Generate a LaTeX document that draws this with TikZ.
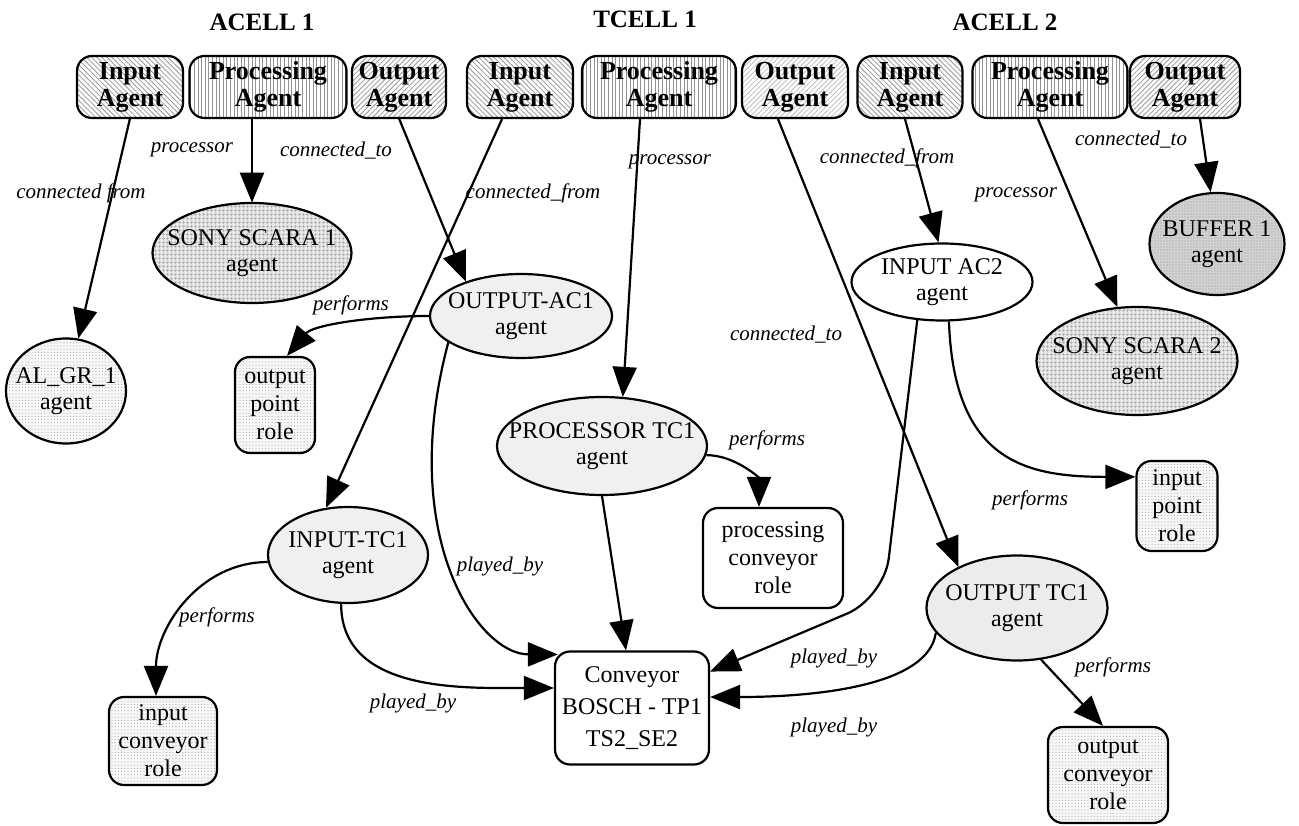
\documentclass[tikz,border=0pt]{standalone}
\usepackage{fontspec}
\setmainfont{Liberation Serif}
\usetikzlibrary{arrows.meta,patterns.meta,shapes.geometric}
\begin{document}
\begin{tikzpicture}[x=1pt,y=-1pt,
  every node/.style={inner sep=0pt, align=center},
  head/.style={font=\fontsize{25}{26}\selectfont\bfseries},
  topbox/.style={draw, line width=2.2pt, rounded corners=15pt, minimum height=62pt,
    font=\fontsize{26}{27}\selectfont\bfseries, minimum width=#1},
  inpat/.style={preaction={fill=white}, pattern={Lines[angle=-45,distance=3.6pt,line width=0.8pt]}, pattern color=gray!80},
  prpat/.style={preaction={fill=white}, pattern={Lines[angle=90,distance=3.6pt,line width=0.9pt]}, pattern color=gray!85},
  outpat/.style={preaction={fill=white}, pattern={Lines[angle=45,distance=3.6pt,line width=0.8pt]}, pattern color=#1},
  agent/.style={draw, ellipse, line width=2.2pt},
  atext/.style={font=\fontsize{24}{26}\selectfont},
  rolebox/.style={draw, line width=2.2pt, rounded corners=15pt, font=\fontsize{24}{28}\selectfont},
  light/.style={fill=gray!12},
  dotfill/.style={preaction={fill=gray!6}, pattern={Dots[distance=3.2pt,radius=0.55pt]}, pattern color=gray!70},
  scarafill/.style={preaction={fill=gray!18}, pattern={Hatch[angle=0,distance=4pt,line width=0.7pt]}, pattern color=gray!70},
  darkfill/.style={preaction={fill=gray!35}, pattern={Dots[distance=3pt,radius=0.7pt]}, pattern color=gray!80},
  lab/.style={font=\fontsize{21}{22}\selectfont\itshape},
  arr/.style={line width=2.2pt, -{Triangle[length=30pt,width=24pt]}},
]
\fill[white] (0,0) rectangle (1299,826);
\useasboundingbox (0,0) rectangle (1299,826);

% headers
\node[head] (hA1) at (262,22) {ACELL 1};
\node[head] (hT1) at (645,19) {TCELL 1};
\node[head] (hA2) at (1005,22) {ACELL 2};

% top boxes
\node[topbox=106pt, inpat] (inA1) at (130,87) {Input\\Agent};
\node[topbox=157pt, prpat] (prA1) at (268,87) {Processing\\Agent};
\node[topbox=94pt, outpat=gray!80] (outA1) at (399,87) {Output\\Agent};
\node[topbox=106pt, inpat] (inA2) at (520,87) {Input\\Agent};
\node[topbox=154pt, prpat] (prA2) at (659,87) {Processing\\Agent};
\node[topbox=106pt, outpat=gray!50] (outA2) at (795,87) {Output\\Agent};
\node[topbox=105pt, inpat] (inA3) at (910,87) {Input\\Agent};
\node[topbox=155pt, prpat] (prA3) at (1050,87) {Processing\\Agent};
\node[topbox=110pt, outpat=gray!80] (outA3) at (1185,87) {Output\\Agent};

% agents (ellipses)
\node[agent, scarafill, minimum width=199pt, minimum height=100pt] (sony1) at (252,253) {};
\node[atext] (sony1t) at (sony1) {SONY SCARA 1\\agent};
\node[agent, dotfill, minimum width=120pt, minimum height=105pt] (algr) at (66,391) {};
\node[atext] (algrt) at (algr) {AL\_GR\_1\\agent};
\node[agent, light, minimum width=182pt, minimum height=84pt] (oac1) at (521,316) {};
\node[atext] (oac1t) at (oac1) {OUTPUT-AC1\\agent};
\node[agent, light, minimum width=160pt, minimum height=96pt] (itc1) at (348,555) {};
\node[atext] (itc1t) at (itc1) {INPUT-TC1\\agent};
\node[agent, light, minimum width=210pt, minimum height=98pt] (ptc1) at (602,446) {};
\node[atext] (ptc1t) at (ptc1) {PROCESSOR TC1\\agent};
\node[agent, fill=white, minimum width=181pt, minimum height=77pt] (iac2) at (942,282) {};
\node[atext] (iac2t) at (iac2) {INPUT AC2\\agent};
\node[agent, darkfill, minimum width=135pt, minimum height=102pt] (buf1) at (1217,244) {};
\node[atext] (buf1t) at (buf1) {BUFFER 1\\agent};
\node[agent, scarafill, minimum width=201pt, minimum height=108pt] (sony2) at (1137,361) {};
\node[atext] (sony2t) at (sony2) {SONY SCARA 2\\agent};
\node[agent, fill=gray!15, minimum width=181pt, minimum height=105pt] (otc1) at (1017,608) {};
\node[atext] (otc1t) at (otc1) {OUTPUT TC1\\agent};

% roles and conveyor
\node[rolebox, dotfill, minimum width=80pt, minimum height=96pt] (opr) at (275,405) {output\\point\\role};
\node[rolebox, dotfill, minimum width=108pt, minimum height=88pt] (icr) at (163,741) {input\\conveyor\\role};
\node[rolebox, fill=white, minimum width=140pt, minimum height=100pt] (pcr) at (773,558) {processing\\conveyor\\role};
\node[rolebox, fill=white, minimum width=154pt, minimum height=113pt, font=\fontsize{24}{32}\selectfont] (conv) at (632,708) {Conveyor\\BOSCH - TP1\\TS2\_SE2};
\node[rolebox, dotfill, minimum width=81pt, minimum height=90pt] (ipr) at (1177,506) {input\\point\\role};
\node[rolebox, dotfill, minimum width=120pt, minimum height=96pt] (ocr) at (1108,775) {output\\conveyor\\role};

\coordinate (b16) at (884,598);

% connectors
\draw[arr] (inA1.south) -- (algr);
\draw[arr] (prA1.south -| sony1) -- (sony1.north);
\draw[arr] (outA1.south) -- (oac1.148);
\draw[arr] ([xshift=-18pt]inA2.south) -- (itc1.115);
\draw[arr] ([xshift=-19pt]prA2.south) -- (ptc1.67);
\draw[arr] ([xshift=-17pt]outA2.south) -- (otc1.145);
\draw[arr] ([xshift=-5pt]inA3.south) -- (iac2.95);
\draw[arr] ([xshift=-12pt]prA3.south) -- (sony2.110);
\draw[arr] ([xshift=15pt]outA3.south) -- (buf1.97);

\draw[arr] (oac1.west) to[out=180,in=50,out distance=60pt,in distance=40pt] ([xshift=12pt]opr.north);
\draw[arr] (oac1.200) to[out=255,in=180,out distance=200pt,in distance=80pt] ([xshift=4pt,yshift=-4pt]conv.north west);
\draw[arr] (itc1.185) to[out=180,in=90] ([xshift=-7pt]icr.north);
\draw[arr] (itc1.262) to[out=270,in=180] ([yshift=20pt]conv.west);
\draw[arr] (ptc1.-5) to[out=0,in=90] ([xshift=-14pt]pcr.north);
\draw[arr] (ptc1.south) -- ([xshift=-6pt]conv.north);
\draw[arr, rounded corners=40pt] (iac2.237) -- (b16) -- (conv.25);
\draw[arr] (otc1.197) to[out=262,in=0,out distance=55pt,in distance=100pt] (conv.8);
\draw[arr] (iac2.280) to[out=272,in=180,out distance=140pt,in distance=110pt] (ipr.145);
\draw[arr] (otc1.-65) -- ([xshift=-5pt]ocr.north);

% labels
\node[lab] (l1) at (81,193) {connected from};
\node[lab] (l2) at (192,150) {processor};
\node[lab] (l3) at (336,151) {connected\_to};
\node[lab] (l4) at (533,193) {connected\_from};
\node[lab] (l5) at (670,162) {processor};
\node[lab] (l6) at (786,335) {connected\_to};
\node[lab] (l7) at (887,158) {connected\_from};
\node[lab] (l8) at (1016,195) {processor};
\node[lab] (l9) at (1131,140) {connected\_to};
\node[lab] (l10) at (351,305) {performs};
\node[lab] (l11) at (767,440) {performs};
\node[lab] (l12) at (1030,500) {performs};
\node[lab] (l13) at (1113,667) {performs};
\node[lab] (l14) at (217,617) {performs};
\node[lab] (l15) at (500,566) {played\_by};
\node[lab] (l16) at (413,703) {played\_by};
\node[lab] (l17) at (834,658) {played\_by};
\node[lab] (l18) at (834,727) {played\_by};
\end{tikzpicture}
\end{document}
